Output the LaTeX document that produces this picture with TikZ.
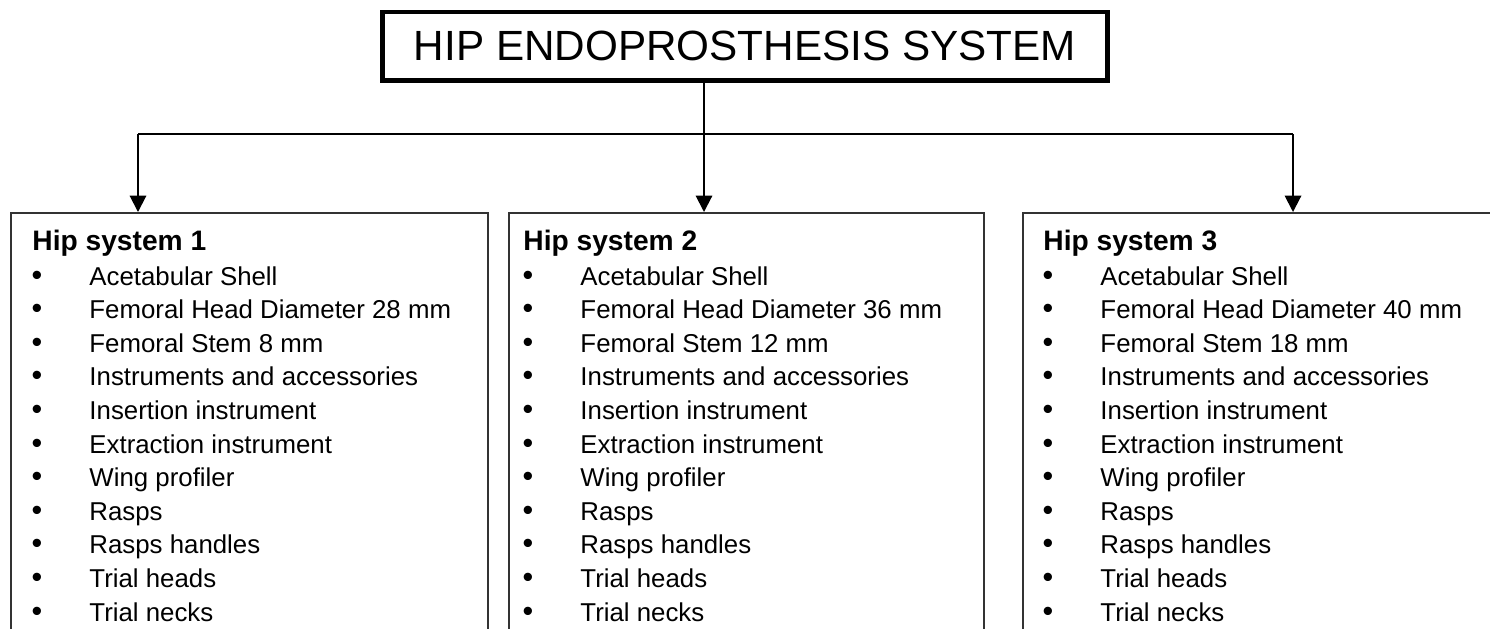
\documentclass[tikz,border=0pt]{standalone}
\usepackage{fontspec}
\setmainfont{Liberation Sans}
\usetikzlibrary{arrows.meta}

\begin{document}
\begin{tikzpicture}[x=0.426pt, y=-0.426pt,
    frame/.style = {draw=black!80, line width=0.85pt, anchor=north west, inner sep=0pt},
    headline/.style = {draw, line width=2.1pt, inner sep=0pt, minimum width=309pt,
        minimum height=29pt, font=\fontsize{18}{22}\selectfont},
    heading/.style = {anchor=base west, inner sep=0pt, font=\fontsize{12}{14}\selectfont\bfseries},
    entry/.style = {anchor=base west, inner sep=0pt, font=\fontsize{11}{13}\selectfont},
    dot/.style = {anchor=base, inner sep=0pt, font=\fontsize{13}{13}\selectfont},
    link/.style = {line width=0.85pt, -{Triangle[width=7pt,length=7pt]}}]
\useasboundingbox (0,0) rectangle (1490,628);
\node[headline] (title) at (745,46) {HIP ENDOPROSTHESIS SYSTEM};
\coordinate (t1) at (138,134);
\coordinate (t2) at (704,134);
\coordinate (t3) at (1293,134);
\foreach \n/\bx/\bw/\hx/\hd/\sz in {1/10/477/32/28/8, 2/508/475/523/36/12, 3/1022/500/1043/40/18} {
    \node[frame, minimum width=\bw*0.426pt, minimum height=200pt] (sys\n) at (\bx,212) {};
    \node[heading] (head\n) at (\hx,250) {Hip system \n};
    \foreach \txt [count=\k] in {Acetabular Shell, Femoral Head Diameter \hd\ mm,
        Femoral Stem \sz\ mm, Instruments and accessories, Insertion instrument,
        Extraction instrument, Wing profiler, Rasps, Rasps handles, Trial heads, Trial necks} {
        \node[dot] (dot\n-\k) at (\hx+5,251.4+33.6*\k) {•};
        \node[entry] (item\n-\k) at (\hx+57,251.4+33.6*\k) {\txt};
    }
}
\draw[line width=0.85pt] (title.south -| t2) -- (t2);
\draw[line width=0.85pt] (t1) -- (t3);
\foreach \i in {1,2,3}
    \draw[link] (t\i) -- (t\i |- sys\i.north);
\end{tikzpicture}
\end{document}
